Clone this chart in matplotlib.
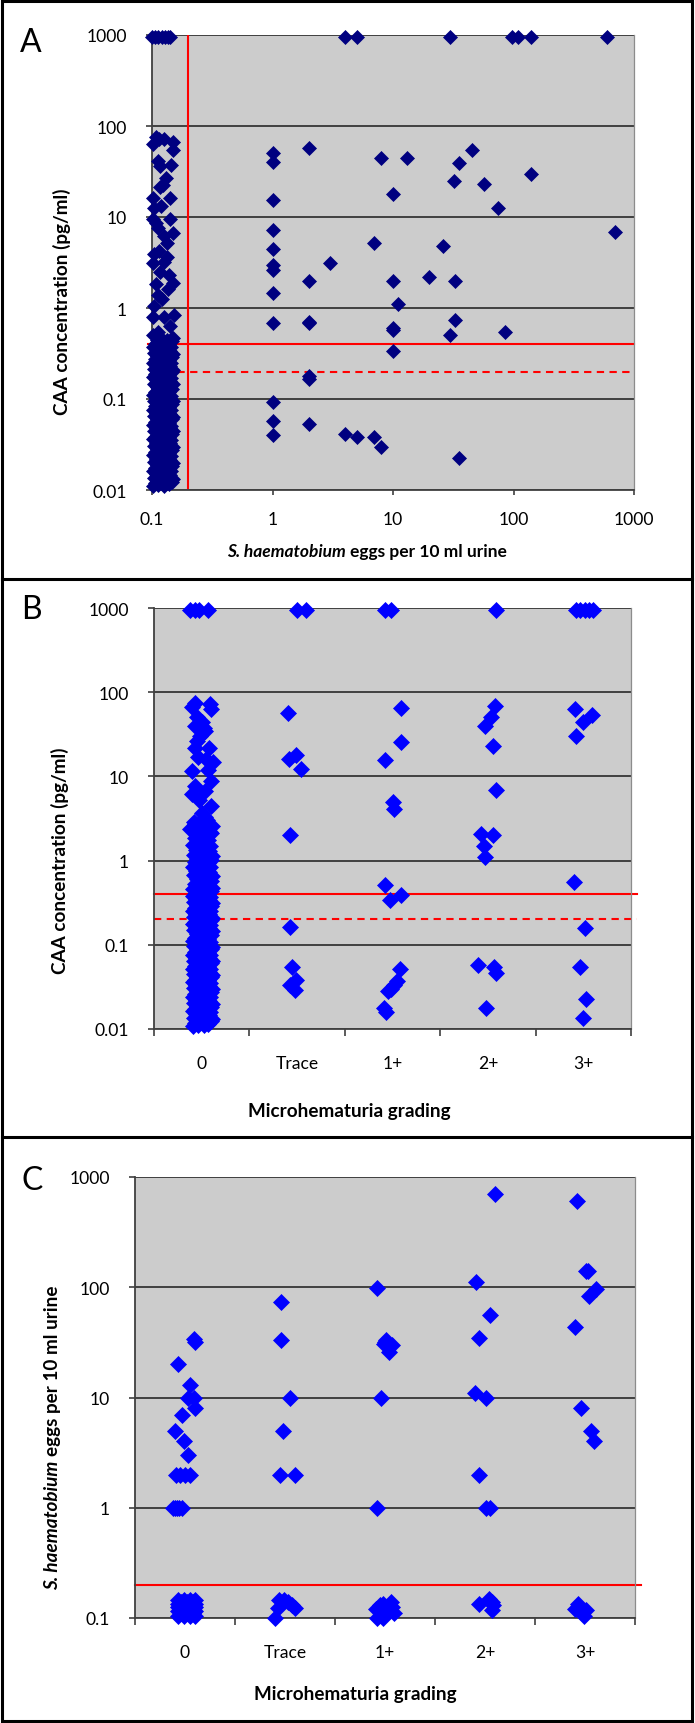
import numpy as np
import matplotlib.pyplot as plt
from matplotlib.lines import Line2D
from matplotlib.patches import Rectangle
from matplotlib.ticker import NullLocator

plt.rcParams['font.family'] = ['Lato', 'DejaVu Sans']

# ---------------- data ----------------
# panel A: egg-positive samples, eggs per 10 ml vs CAA (pg/ml); 950 = above detection range
a_pos_eggs = [4, 5, 30, 97, 110, 140, 600,
              1, 1, 1, 1, 1, 1, 1, 1, 1, 1, 1, 1,
              2, 2, 2, 2, 2, 2, 2,
              3, 4, 5, 7, 7, 8, 8,
              10, 10, 10, 10, 10, 11, 13, 20, 26, 30, 32, 33, 33, 35, 35,
              45, 57, 75, 85, 140, 700]
a_pos_caa = [950, 950, 950, 950, 950, 950, 950,
             51, 40, 15.5, 7.2, 4.4, 3.0, 2.6, 1.45, 0.68, 0.092, 0.057, 0.040,
             57, 2.0, 0.71, 0.68, 0.18, 0.166, 0.053,
             3.1, 0.041, 0.038, 5.2, 0.038, 44, 0.030,
             17.8, 2.0, 0.6, 0.57, 0.34, 1.1, 45, 2.2, 4.8, 0.51, 25, 2.0, 0.74, 39, 0.0226,
             55, 23, 12.4, 0.55, 30, 6.9]

# egg-negative samples (plotted at 0.1-0.15 eggs), scattered part
a_neg_eggs = [0.100, 0.106, 0.113, 0.120, 0.128, 0.135, 0.142,
              0.101, 0.108, 0.115, 0.126, 0.148, 0.150, 0.112, 0.116, 0.143, 0.131,
              0.116, 0.124, 0.141, 0.101, 0.104, 0.119, 0.141, 0.102, 0.108, 0.113,
              0.150, 0.126, 0.134, 0.115, 0.103, 0.134, 0.125, 0.101, 0.138, 0.116,
              0.150, 0.108, 0.136, 0.122, 0.113, 0.104, 0.152, 0.101, 0.126, 0.140,
              0.113, 0.147, 0.101]
a_neg_caa = [950, 950, 950, 950, 950, 950, 950,
             64, 75, 72, 72, 66, 55, 41, 36, 37, 27,
             21.5, 22.7, 16.2, 16.2, 12.6, 13.2, 9.5, 9.5, 8.6, 7.5,
             6.7, 6.2, 5.2, 4.2, 3.9, 3.6, 3.2, 3.1, 2.3, 2.5,
             1.88, 1.85, 1.6, 1.27, 1.4, 1.05, 0.83, 0.79, 0.79, 0.63,
             0.55, 0.47, 0.5]

# dense block of egg-negative CAA values (pg/ml)
neg_block_caa = sorted([
    0.011, 0.0115, 0.012, 0.0125, 0.013, 0.014, 0.015, 0.016, 0.017, 0.018,
    0.019, 0.02, 0.021, 0.022, 0.024, 0.025, 0.027, 0.028, 0.03, 0.032,
    0.034, 0.036, 0.038, 0.04, 0.043, 0.045, 0.048, 0.05, 0.053, 0.056,
    0.06, 0.063, 0.067, 0.07, 0.075, 0.08, 0.085, 0.09, 0.095, 0.1,
    0.105, 0.11, 0.12, 0.13, 0.14, 0.15, 0.16, 0.17, 0.18, 0.19,
    0.2, 0.21, 0.22, 0.24, 0.25, 0.27, 0.28, 0.3, 0.32, 0.34,
    0.36, 0.38, 0.4, 0.42, 0.45,
    0.0112, 0.0118, 0.0123, 0.0128, 0.0135, 0.0145, 0.0155, 0.0165, 0.0175, 0.0185,
    0.0195, 0.0205, 0.0215, 0.023, 0.0245, 0.026, 0.0275, 0.029, 0.031, 0.033,
    0.035, 0.037, 0.039, 0.042, 0.044, 0.047, 0.049, 0.052, 0.055, 0.058,
    0.062, 0.065, 0.069, 0.073, 0.078, 0.083, 0.088, 0.093, 0.098, 0.102,
    0.108, 0.115, 0.125, 0.135, 0.145, 0.155, 0.165, 0.175, 0.185, 0.195,
    0.205, 0.215, 0.23, 0.245, 0.26, 0.275, 0.29, 0.31, 0.33, 0.35,
    0.37, 0.39, 0.41, 0.44, 0.47,
    0.0113, 0.0121, 0.0131, 0.014, 0.0152, 0.0162, 0.0172, 0.0182, 0.0192, 0.0208,
    0.0225, 0.0238, 0.0255, 0.027, 0.0285, 0.0305, 0.0325, 0.0345, 0.0365, 0.0385,
    0.041, 0.0435, 0.046, 0.0485, 0.051, 0.054, 0.057, 0.061, 0.064, 0.068,
    0.072, 0.076, 0.081, 0.086, 0.091, 0.096, 0.101, 0.107, 0.113, 0.118,
    0.128, 0.138, 0.148, 0.158, 0.168, 0.178, 0.188, 0.198, 0.208, 0.22,
    0.235, 0.25, 0.265, 0.28, 0.3, 0.315, 0.335, 0.355, 0.375, 0.395,
    0.43, 0.46])
jit_cycle = [0.0, 0.55, 0.25, 0.8, 0.1, 0.65, 0.35, 0.95, 0.2, 0.7,
             0.45, 1.0, 0.05, 0.6, 0.3, 0.85, 0.15, 0.75, 0.4, 0.9]

grades = ['0', 'Trace', '1+', '2+', '3+']

# panel B: microhematuria grade (x position within category) vs CAA
b_mh0_x = [0.38, 0.43, 0.47, 0.57,
           0.43, 0.59, 0.40, 0.60, 0.45, 0.50, 0.43, 0.52, 0.53, 0.45, 0.43, 0.58,
           0.46, 0.54, 0.40, 0.57, 0.60, 0.43, 0.53, 0.40, 0.60, 0.50, 0.43, 0.59,
           0.38, 0.56, 0.47, 0.62, 0.48]
b_mh0_caa = [950, 950, 950, 950,
             75, 72, 66, 63, 51, 44, 40, 38, 35, 26.5, 22, 22,
             16.8, 16, 11.5, 11.8, 8.9, 7.6, 6.8, 6.1, 4.5, 3.7, 2.7, 2.2,
             2.4, 3.0, 5.2, 15, 30]
b_mh0_mid_caa = sorted([0.46, 0.5, 0.52, 0.55, 0.58, 0.6, 0.63, 0.66, 0.7, 0.72,
                        0.75, 0.8, 0.85, 0.9, 0.95, 1.0, 1.05, 1.1, 1.15, 1.2,
                        1.3, 1.4, 1.5, 1.6, 1.75, 1.9, 2.0, 2.2, 2.4,
                        0.48, 0.53, 0.57, 0.62, 0.68, 0.74, 0.78, 0.83, 0.88, 0.93,
                        0.98, 1.03, 1.08, 1.13, 1.25, 1.35, 1.45, 1.55, 1.7, 1.85,
                        2.1, 2.3, 2.6, 2.9, 3.3])
b_pos_x = [1.496, 1.589, 1.403, 1.417, 1.487, 1.543, 1.422, 1.422, 1.445, 1.487, 1.427, 1.473,
           2.426, 2.481, 2.588, 2.588, 2.421, 2.505, 2.519, 2.421, 2.472, 2.588,
           2.579, 2.551, 2.519, 2.486, 2.458, 2.416, 2.435,
           3.587, 3.573, 3.532, 3.467, 3.555, 3.587, 3.425, 3.555, 3.457, 3.471,
           3.401, 3.559, 3.587, 3.480,
           4.424, 4.470, 4.517, 4.563, 4.600, 4.414, 4.586, 4.498, 4.424,
           4.401, 4.517, 4.461, 4.531, 4.494]
b_pos_caa = [950, 950, 57, 16.3, 18.1, 12.3, 2.0, 0.162, 0.054, 0.038, 0.033, 0.029,
             950, 950, 65, 25.5, 15.8, 4.9, 4.07, 0.51, 0.34, 0.39,
             0.051, 0.037, 0.033, 0.030, 0.028, 0.018, 0.016,
             950, 69.5, 51, 40, 22.8, 6.9, 2.05, 2.0, 1.48, 1.09,
             0.058, 0.055, 0.046, 0.018,
             950, 950, 950, 950, 950, 63, 54, 44, 30,
             0.55, 0.159, 0.054, 0.023, 0.0136]

# panel C: microhematuria grade vs eggs per 10 ml (negatives shown at 0.1-0.14)
c_x = [0.434, 0.585, 0.598, 0.545, 0.532, 0.590, 0.598, 0.474, 0.399, 0.492, 0.532,
       0.408, 0.452, 0.501, 0.545, 0.377, 0.399, 0.421, 0.443, 0.465,
       1.463, 1.458, 1.547, 1.476, 1.445, 1.596,
       1.441, 1.485, 1.529, 1.574, 1.432, 1.600, 1.396,
       2.420, 2.496, 2.487, 2.571, 2.509, 2.544, 2.460, 2.420,
       2.558, 2.482, 2.451, 2.407, 2.518, 2.593, 2.416, 2.478, 2.571,
       3.604, 3.409, 3.551, 3.440, 3.404, 3.511, 3.440, 3.511, 3.551,
       3.537, 3.440, 3.568, 3.577, 3.568,
       4.415, 4.512, 4.526, 4.610, 4.539, 4.402, 4.459, 4.561, 4.592,
       4.433, 4.402, 4.512, 4.455, 4.486]
c_eggs = [20, 34, 32, 13, 10, 10, 8, 7, 5, 4, 3,
          2, 2, 2, 2, 1, 1, 1, 1, 1,
          74, 33, 10, 5, 2, 2,
          0.147, 0.145, 0.14, 0.131, 0.122, 0.122, 0.1,
          98, 32, 30.5, 30, 33, 25.7, 10, 1,
          0.14, 0.135, 0.13, 0.12, 0.115, 0.11, 0.1, 0.1, 0.126,
          700, 112, 56, 34.5, 11, 10, 2, 1, 1,
          0.148, 0.135, 0.14, 0.13, 0.118,
          600, 139, 139, 96, 84, 44, 8, 5, 4,
          0.134, 0.12, 0.118, 0.114, 0.105]
# egg-negative, MH grade 0: one dense blob
c_neg_x = [0.43, 0.49, 0.55, 0.60,
           0.46, 0.52, 0.58,
           0.43, 0.49, 0.55, 0.60,
           0.46, 0.52, 0.58,
           0.43, 0.49, 0.55, 0.60,
           0.46, 0.52, 0.58,
           0.43, 0.49, 0.55, 0.60,
           0.46, 0.52, 0.58,
           0.43, 0.49, 0.55, 0.60]
c_neg_eggs = [0.105, 0.105, 0.105, 0.105,
              0.11, 0.11, 0.11,
              0.115, 0.115, 0.115, 0.115,
              0.12, 0.12, 0.12,
              0.125, 0.125, 0.125, 0.125,
              0.13, 0.13, 0.13,
              0.135, 0.135, 0.135, 0.135,
              0.14, 0.14, 0.14,
              0.145, 0.145, 0.145, 0.145]

caa_cutoff = 0.4
caa_cutoff_low = 0.2
egg_cutoff = 0.2

# ---------------- figure ----------------
W, H = 695, 1724
fig = plt.figure(figsize=(W / 100, H / 100), dpi=100)

NAVY = '#000080'
BLUE = '#0000ff'
RED = '#ff0000'
TICK_FS = 12.6
LAB_FS = 13.6
MS_A = 7.2
MS_B = 7.9


def px_axes(l, t, r, b):
    return fig.add_axes([l / W, 1 - b / H, (r - l) / W, (b - t) / H])


def fmt(v):
    return '%g' % v


def style(ax, yticks):
    ax.set_facecolor('#cccccc')
    ax.set_yscale('log')
    ax.set_ylim(yticks[0], yticks[-1])
    ax.set_yticks(yticks)
    ax.set_yticklabels([fmt(v) for v in yticks])
    ax.yaxis.set_minor_locator(NullLocator())
    ax.grid(axis='y', color='#1a1a1a', lw=1.1, zorder=0)
    ax.set_axisbelow(True)
    for s in ['left', 'bottom']:
        ax.spines[s].set_color('#404040')
        ax.spines[s].set_linewidth(1.3)
    ax.spines['top'].set_visible(False)
    ax.spines['right'].set_color('#8c8c8c')
    ax.spines['right'].set_linewidth(0.9)
    ax.tick_params(axis='y', which='major', length=4.5, width=1.2, color='#404040',
                   pad=13.5, labelsize=TICK_FS)


def grade_axis(ax):
    ax.set_xlim(0, 5)
    ax.set_xticks(range(6))
    ax.set_xticklabels([])
    ax.set_xticks([i + 0.5 for i in range(5)], minor=True)
    ax.set_xticklabels(grades, minor=True)
    ax.tick_params(axis='x', which='major', length=5, width=1.2, color='#404040')
    ax.tick_params(axis='x', which='minor', length=0, pad=19, labelsize=TICK_FS)


mk = dict(ls='none', marker='D', mew=0.5, clip_on=False, zorder=3)

# ---- panel A ----
axA = px_axes(152, 36, 634, 491)
style(axA, [0.01, 0.1, 1, 10, 100, 1000])
axA.set_xscale('log')
axA.set_xlim(0.1, 1000)
axA.set_xticks([0.1, 1, 10, 100, 1000])
axA.set_xticklabels([fmt(v) for v in [0.1, 1, 10, 100, 1000]])
axA.xaxis.set_minor_locator(NullLocator())
axA.tick_params(axis='x', length=3.6, width=1.2, color='#404040', pad=11.5, labelsize=TICK_FS)
axA.axvline(egg_cutoff, color=RED, lw=1.5, zorder=1)
axA.axhline(caa_cutoff, xmin=-0.008, xmax=1.0, color=RED, lw=1.5, zorder=1, clip_on=False)
axA.axhline(caa_cutoff_low, color=RED, lw=1.5, ls=(0, (3.5, 2.6)), zorder=1)
n = len(neg_block_caa)
jit = (jit_cycle * 10)[:n]
block_eggs = [10 ** (-0.99 + 0.165 * j) for j in jit]
axA.plot(block_eggs, neg_block_caa, ms=MS_A, color=NAVY, mec=NAVY, **mk)
axA.plot(a_neg_eggs, a_neg_caa, ms=MS_A, color=NAVY, mec=NAVY, **mk)
axA.plot(a_pos_eggs, a_pos_caa, ms=MS_A, color=NAVY, mec=NAVY, **mk)

# ---- panel B ----
axB = px_axes(154, 609, 631, 1030)
style(axB, [0.01, 0.1, 1, 10, 100, 1000])
grade_axis(axB)
axB.axhline(caa_cutoff, xmax=1.0126, color=RED, lw=1.5, zorder=1, clip_on=False)
axB.axhline(caa_cutoff_low, xmax=1.0126, color=RED, lw=1.5, ls=(0, (3.5, 2.6)),
            zorder=1, clip_on=False)
b_block_x = [0.41 + 0.2 * j for j in jit]
mid_jit = (jit_cycle * 3)[:len(b_mh0_mid_caa)]
axB.plot(b_block_x, neg_block_caa, ms=MS_B, color=BLUE, mec=BLUE, **mk)
axB.plot([0.41 + 0.2 * j for j in mid_jit], b_mh0_mid_caa, ms=MS_B, color=BLUE, mec=BLUE, **mk)
axB.plot(b_mh0_x, b_mh0_caa, ms=MS_B, color=BLUE, mec=BLUE, **mk)
axB.plot(b_pos_x, b_pos_caa, ms=MS_B, color=BLUE, mec=BLUE, **mk)

# ---- panel C ----
axC = px_axes(135, 1178, 635, 1619)
style(axC, [0.1, 1, 10, 100, 1000])
grade_axis(axC)
axC.axhline(egg_cutoff, xmax=1.012, color=RED, lw=1.5, zorder=1, clip_on=False)
axC.plot(c_neg_x, c_neg_eggs, ms=MS_B, color=BLUE, mec=BLUE, **mk)
axC.plot(c_x, c_eggs, ms=MS_B, color=BLUE, mec=BLUE, **mk)

# ---------------- text ----------------
def ftext(x, y, s, **kw):
    return fig.text(x / W, 1 - y / H, s, **kw)


for letter, (lx, ly) in zip('ABC', [(31, 43), (31, 610), (32, 1181)]):
    ftext(lx, ly, letter, fontsize=23, ha='center', va='center')

ftext(62, 302, 'CAA concentration (pg/ml)', rotation=90, ha='center', va='center',
      fontsize=LAB_FS, fontweight='bold')
ftext(60, 861, 'CAA concentration (pg/ml)', rotation=90, ha='center', va='center',
      fontsize=LAB_FS, fontweight='bold')
ftext(349, 1112, 'Microhematuria grading', ha='center', va='center',
      fontsize=LAB_FS, fontweight='bold')
ftext(355, 1695, 'Microhematuria grading', ha='center', va='center',
      fontsize=LAB_FS, fontweight='bold')


def two_part(cx, cy, p1, p2, size, vertical=False):
    r = fig.canvas.get_renderer()
    kw = dict(fontsize=size, fontweight='bold')
    t1 = fig.text(0, 0, p1, fontstyle='italic', **kw)
    t2 = fig.text(0, 0, p2, **kw)
    ta = fig.text(0, 0, 'a a', **kw)
    tb = fig.text(0, 0, 'aa', **kw)
    w1 = t1.get_window_extent(r).width
    w2 = t2.get_window_extent(r).width
    sp = ta.get_window_extent(r).width - tb.get_window_extent(r).width
    ta.remove()
    tb.remove()
    total = w1 + sp + w2
    off = 0.36 * size * 100 / 72
    for t in (t1, t2):
        t.set_va('baseline')
        t.set_ha('left')
    if not vertical:
        x0 = cx - total / 2
        t1.set_position((x0 / W, 1 - (cy + off) / H))
        t2.set_position(((x0 + w1 + sp) / W, 1 - (cy + off) / H))
    else:
        y0 = cy + total / 2
        for t in (t1, t2):
            t.set_rotation(90)
            t.set_rotation_mode('anchor')
        t1.set_position(((cx + off) / W, 1 - y0 / H))
        t2.set_position(((cx + off) / W, 1 - (y0 - w1 - sp) / H))


two_part(367, 551, 'S. haematobium', 'eggs per 10 ml urine', 12.5)
two_part(51, 1438, 'S. haematobium', 'eggs per 10 ml urine', LAB_FS, vertical=True)

# panel frame and separators
fig.add_artist(Rectangle((2 / W, 2 / H), (W - 5) / W, (H - 4) / H, transform=fig.transFigure,
                         fill=False, ec='black', lw=2.2))
for yy in (580, 1138):
    fig.add_artist(Line2D([2 / W, (W - 3) / W], [1 - yy / H, 1 - yy / H],
                          transform=fig.transFigure, color='black', lw=2.2))

fig.savefig('out.png', dpi=100)
